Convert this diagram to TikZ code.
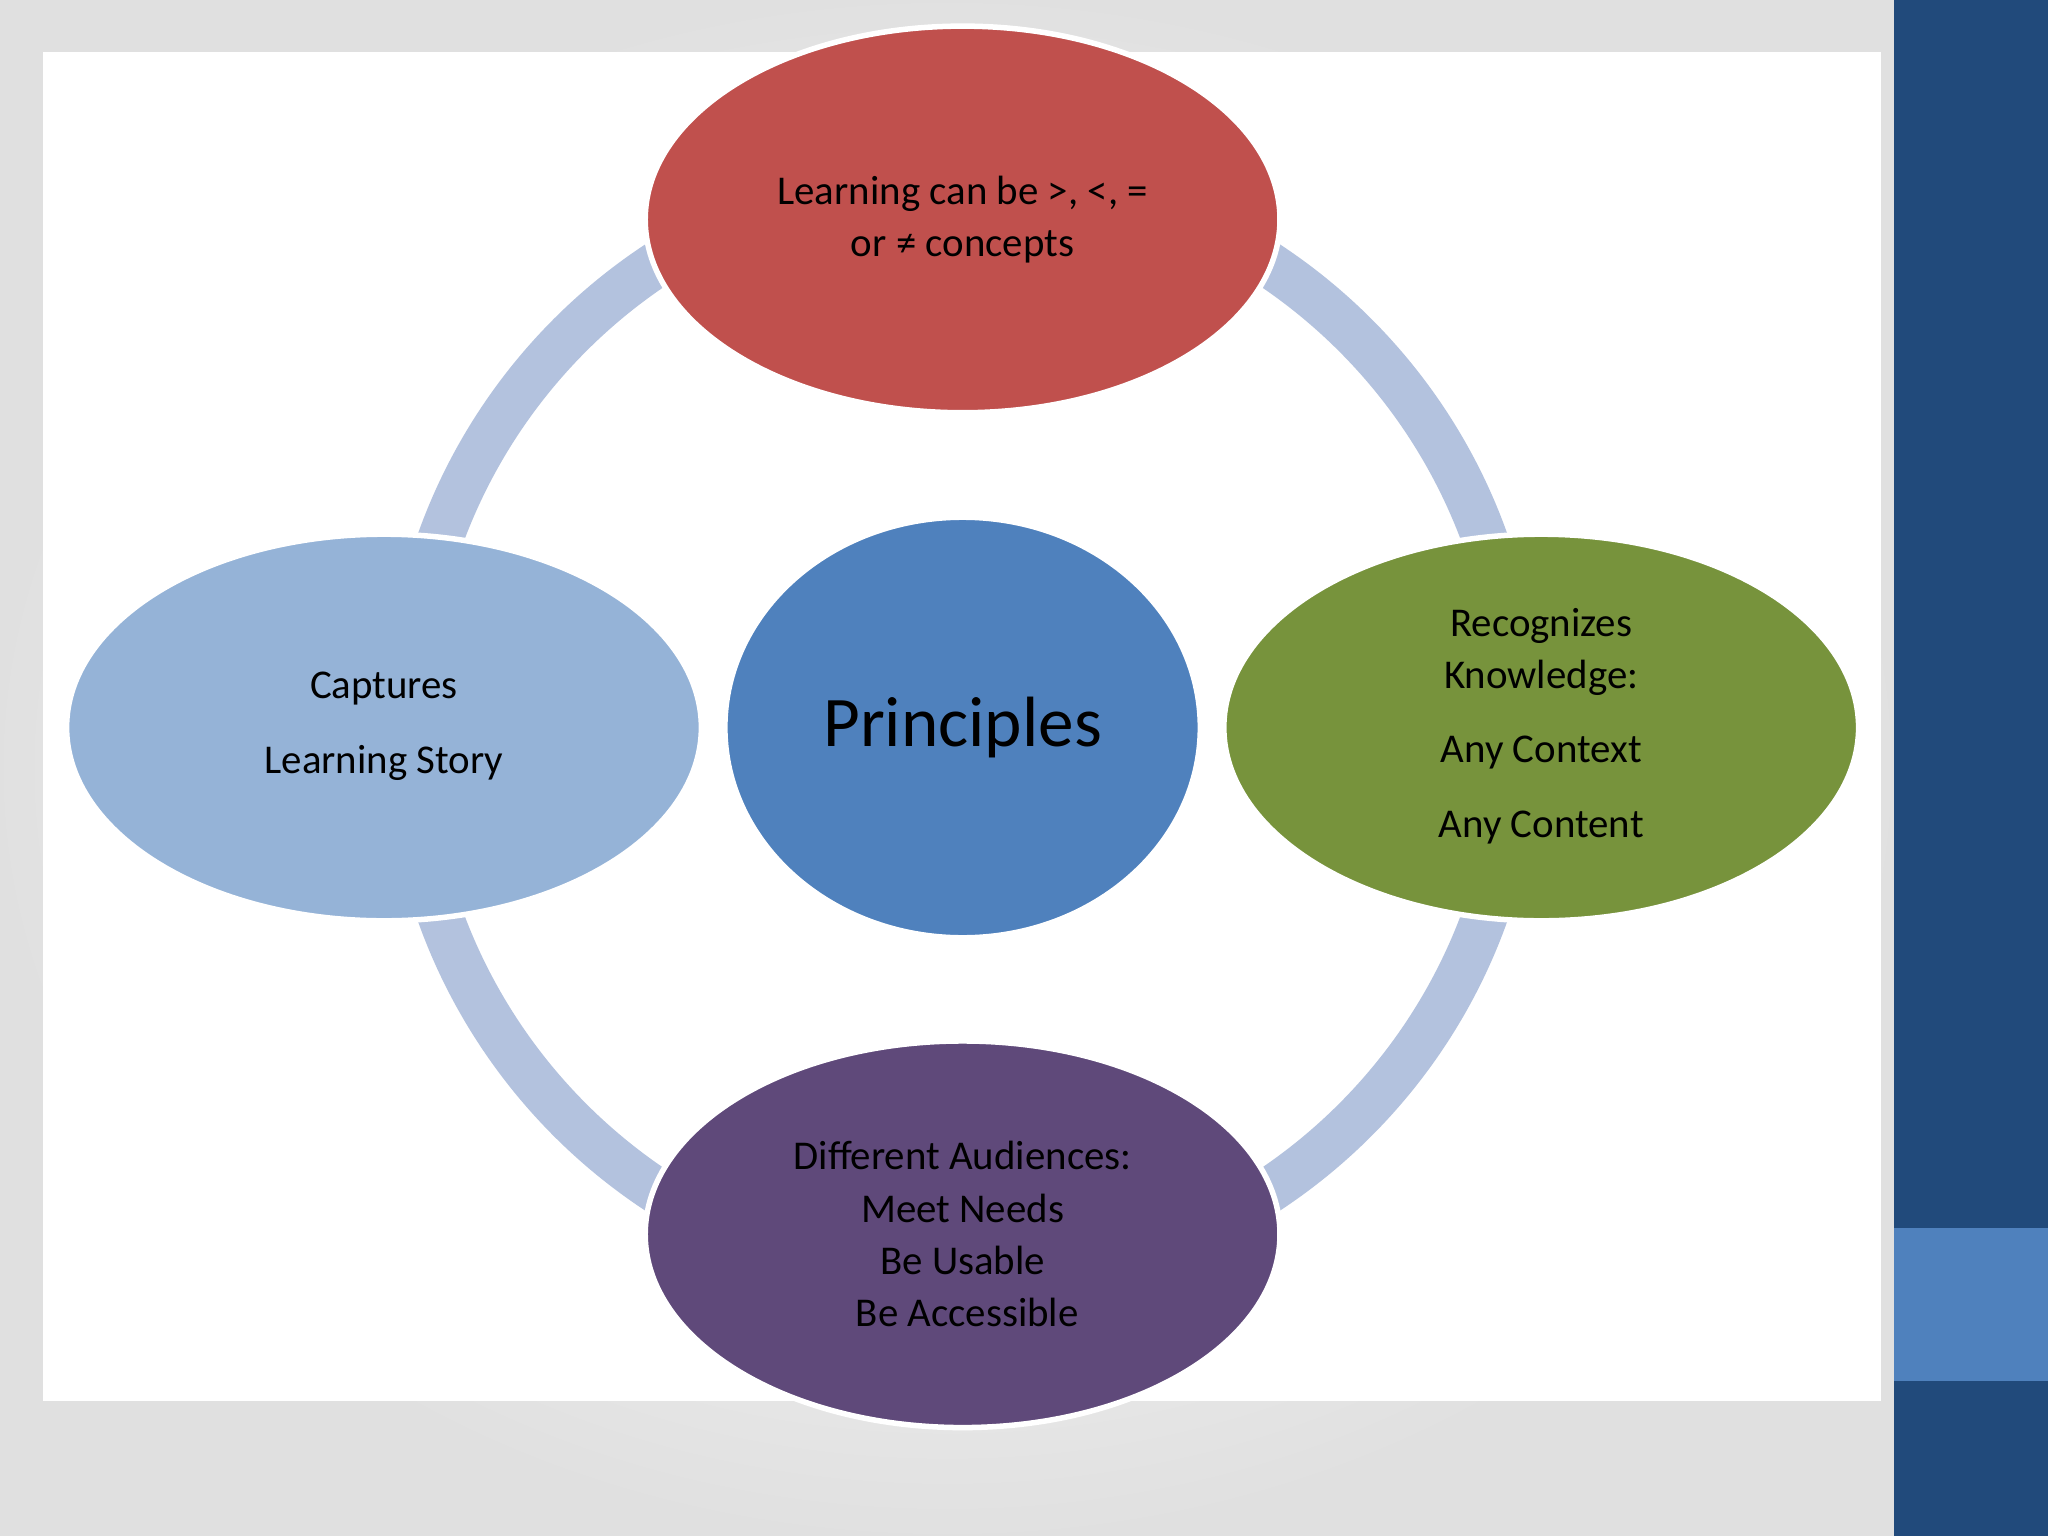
\documentclass[tikz,border=0pt]{standalone}
\usepackage{fontspec}
\setmainfont{Carlito}
\definecolor{redE}{HTML}{C0504D}
\definecolor{lblueE}{HTML}{95B3D7}
\definecolor{blueE}{HTML}{4F81BD}
\definecolor{greenE}{HTML}{77933C}
\definecolor{purpE}{HTML}{5F497A}
\definecolor{ringC}{HTML}{B3C2DE}
\definecolor{barC}{HTML}{214A7B}
\begin{document}
\begin{tikzpicture}[x=0.01cm,y=-0.01cm,
  el/.style={ellipse,draw=white,line width=1.2pt,minimum width=484\pgflinewidth,inner sep=0pt,align=center,font=\fontsize{8.8}{11.4}\selectfont},
]
\tikzset{el/.style={draw=white,line width=1.2pt}}
\useasboundingbox (0,0) rectangle (1568,1176);
\shade[inner color=white,outer color=black!12] (0,0) rectangle (1450,1176);
\fill[white] (33,40) rectangle (1440,1073);
\fill[barC] (1450,0) rectangle (1568,1176);
\fill[blueE] (1450,940) rectangle (1568,1057);
\draw[ringC,line width=1pt*35*0.2845] (737,557) circle [radius=425];
\coordinate (c) at (737,557);
\draw[el,fill=redE] (737,168) ellipse [x radius=243,y radius=148];
\draw[el,fill=lblueE] (294,557) ellipse [x radius=243,y radius=148];
\draw[el,fill=greenE] (1180,557) ellipse [x radius=243,y radius=148];
\draw[el,fill=purpE] (737,945) ellipse [x radius=243,y radius=148];
\draw[el,fill=blueE] (737,557) ellipse [x radius=182,y radius=161];
\tikzset{t/.style={align=center,font=\fontsize{8.9}{11.4}\selectfont,inner sep=0pt}}
\node[t] (a) at (737,168) {Learning can be >, <, =\\or ≠ concepts};
\node[t,font=\fontsize{8.9}{16.2}\selectfont] (b) at (294,556) {Captures\\Learning Story};
\node[t] (d) at (1180,499) {Recognizes\\Knowledge:};
\node[t,font=\fontsize{8.9}{16.2}\selectfont] (e) at (1180,605) {Any Context\\Any Content};
\node[t] (f) at (737,945) {Different Audiences:\\Meet Needs\\Be Usable\\\ Be Accessible};
\node[t,font=\fontsize{15.5}{18}\selectfont] (p) at (737,557) {Principles};
\end{tikzpicture}
\end{document}
